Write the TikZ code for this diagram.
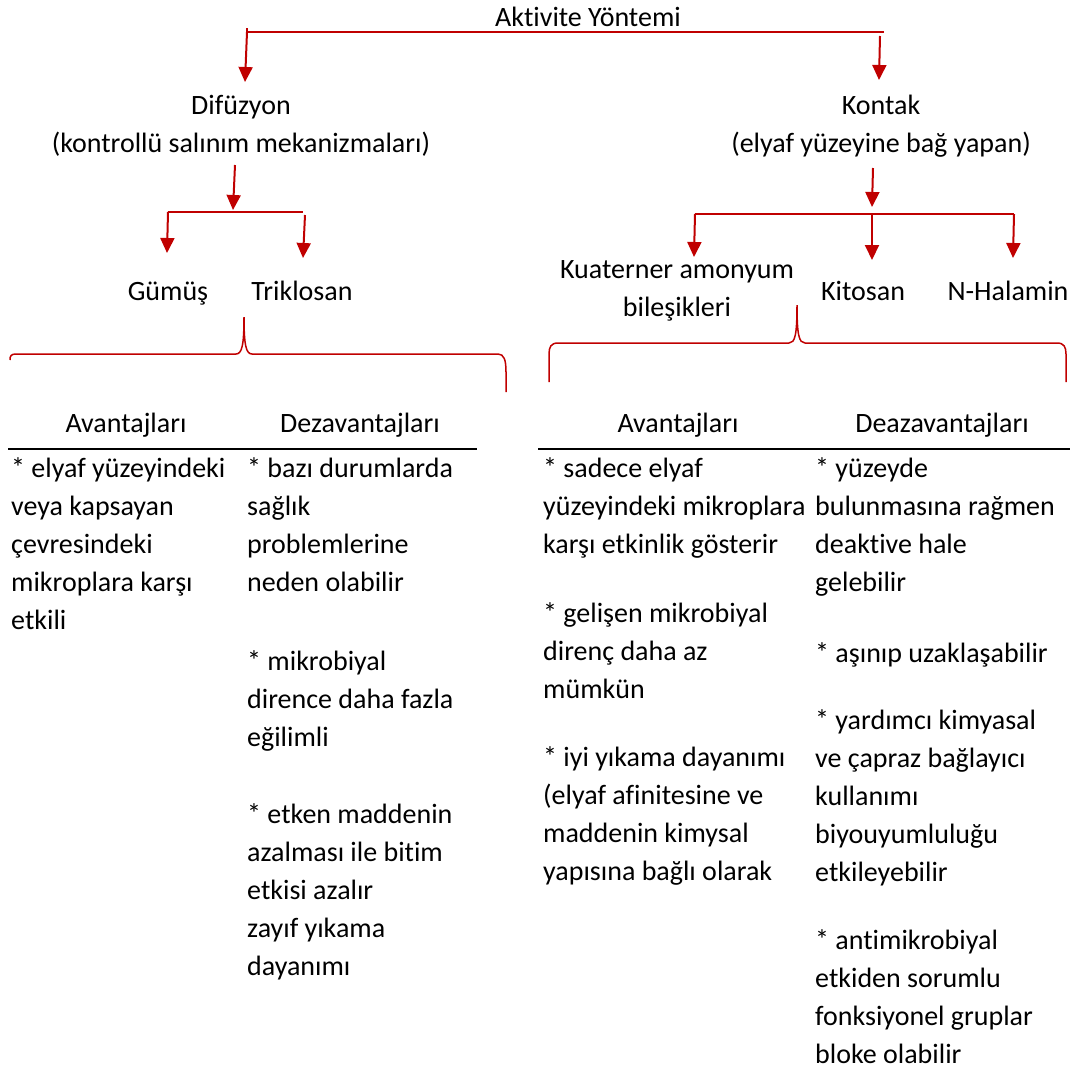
\documentclass[tikz,border=0pt]{standalone}
\usepackage{fontspec}
\setmainfont{Carlito}[Ligatures=NoCommon]
\usetikzlibrary{arrows.meta}

\definecolor{koyukirmizi}{RGB}{192,0,0}

\tikzset{
	etiket/.style={anchor=base, inner sep=0pt},
	madde/.style={anchor=north west, align=left, inner sep=0pt},
	hat/.style={draw=koyukirmizi, line width=2pt},
	ok/.style={hat, -{Triangle[width=14pt,length=15pt]}},
	kiv/.style={draw=koyukirmizi, line width=1.5pt},
	cizgi/.style={draw=black, line width=2.2pt}
}

\begin{document}
\begin{tikzpicture}[x=1pt,y=-1pt,font=\fontsize{28}{38.2}\selectfont]
	\useasboundingbox (0,0) rectangle (1070,1071);

	% ust seviye
	\node[etiket] (aktivite) at (588,26) {Aktivite Yöntemi};
	\node[madde,anchor=north,align=center] (difuzyon) at (241,95) {Difüzyon\\(kontrollü salınım mekanizmaları)};
	\node[madde,anchor=north,align=center] (kontak) at (881,95) {Kontak\\(elyaf yüzeyine bağ yapan)};

	\coordinate (a1) at (247,32);
	\coordinate (a2) at (884,32);
	\draw[hat] (a1) -- (a2);
	\draw[hat] (a1) -- ++(0,-4);
	\draw[ok] (a1) -- (245,82);
	\draw[ok] (880,36) -- (879,80);

	% difuzyon kolu
	\node[etiket] (gumus) at (168,300) {Gümüş};
	\node[etiket] (triklosan) at (302,300) {Triklosan};
	\coordinate (d1) at (168,212);
	\coordinate (d2) at (303,212);
	\draw[ok] (235,165) -- (233,210);
	\draw[hat] (d1) -- (d2);
	\draw[ok] (d1) -- (167,253);
	\draw[ok] (305,215) -- (303,258);

	% kontak kolu
	\node[madde,anchor=north,align=center] (kuaterner) at (677,260) {Kuaterner amonyum\\bileşikleri};
	\node[etiket] (kitosan) at (863,300) {Kitosan};
	\node[etiket] (halamin) at (1008,300) {N-Halamin};
	\coordinate (k1) at (695,214);
	\coordinate (k2) at (872,214);
	\coordinate (k3) at (1014,214);
	\draw[ok] (873,168) -- (872,207);
	\draw[hat] (k1) -- (k3);
	\draw[ok] (k1) -- (694,257);
	\draw[ok] (k2) -- (872,260);
	\draw[ok] (k3) -- (1013,258);

	% kivrik parantezler
	\draw[kiv] (10,360) .. controls (10,356) and (11,354) .. (16,354)
		-- (236,354) .. controls (242,354) and (244,345) .. (244,317)
		.. controls (244,345) and (246,354) .. (252,354)
		-- (498,354) .. controls (504,354) and (506,360) .. (506,372) -- (506,392);
	\draw[kiv] (549,382) -- (549,354) .. controls (549,347) and (551,343) .. (558,343)
		-- (789,343) .. controls (795,343) and (797,335) .. (797,305)
		.. controls (797,335) and (799,343) .. (805,343)
		-- (1057,343) .. controls (1064,343) and (1066,347) .. (1066,354) -- (1066,382);

	% sol tablo
	\node[etiket] (avantajL) at (126,432) {Avantajları};
	\node[etiket] (dezavantajL) at (360,432) {Dezavantajları};
	\draw[cizgi] (8,449) -- (477,449);
	\node[madde] (avL1) at (11,457) {* elyaf yüzeyindeki\\veya kapsayan\\çevresindeki\\mikroplara karşı\\etkili};
	\node[madde] (dezL1) at (247,457) {* bazı durumlarda\\sağlık\\problemlerine\\neden olabilir};
	\node[madde] (dezL2) at (247,650) {* mikrobiyal\\dirence daha fazla\\eğilimli};
	\node[madde] (dezL3) at (247,803) {* etken maddenin\\azalması ile bitim\\etkisi azalır\\zayıf yıkama\\dayanımı};

	% sag tablo
	\node[etiket] (avantajR) at (678,432) {Avantajları};
	\node[etiket] (dezavantajR) at (942,432) {Deazavantajları};
	\draw[cizgi] (538,449) -- (1070,449);
	\node[madde] (avR1) at (543,457) {* sadece elyaf\\yüzeyindeki mikroplara\\karşı etkinlik gösterir};
	\node[madde] (avR2) at (543,602) {* gelişen mikrobiyal\\direnç daha az\\mümkün};
	\node[madde] (avR3) at (543,746) {* iyi yıkama dayanımı\\(elyaf afinitesine ve\\maddenin kimysal\\yapısına bağlı olarak};
	\node[madde] (dezR1) at (815,457) {* yüzeyde\\bulunmasına rağmen\\deaktive hale\\gelebilir};
	\node[madde] (dezR2) at (815,642) {* aşınıp uzaklaşabilir};
	\node[madde] (dezR3) at (815,709) {* yardımcı kimyasal\\ve çapraz bağlayıcı\\kullanımı\\biyouyumluluğu\\etkileyebilir};
	\node[madde] (dezR4) at (815,929) {* antimikrobiyal\\etkiden sorumlu\\fonksiyonel gruplar\\bloke olabilir};
\end{tikzpicture}
\end{document}
